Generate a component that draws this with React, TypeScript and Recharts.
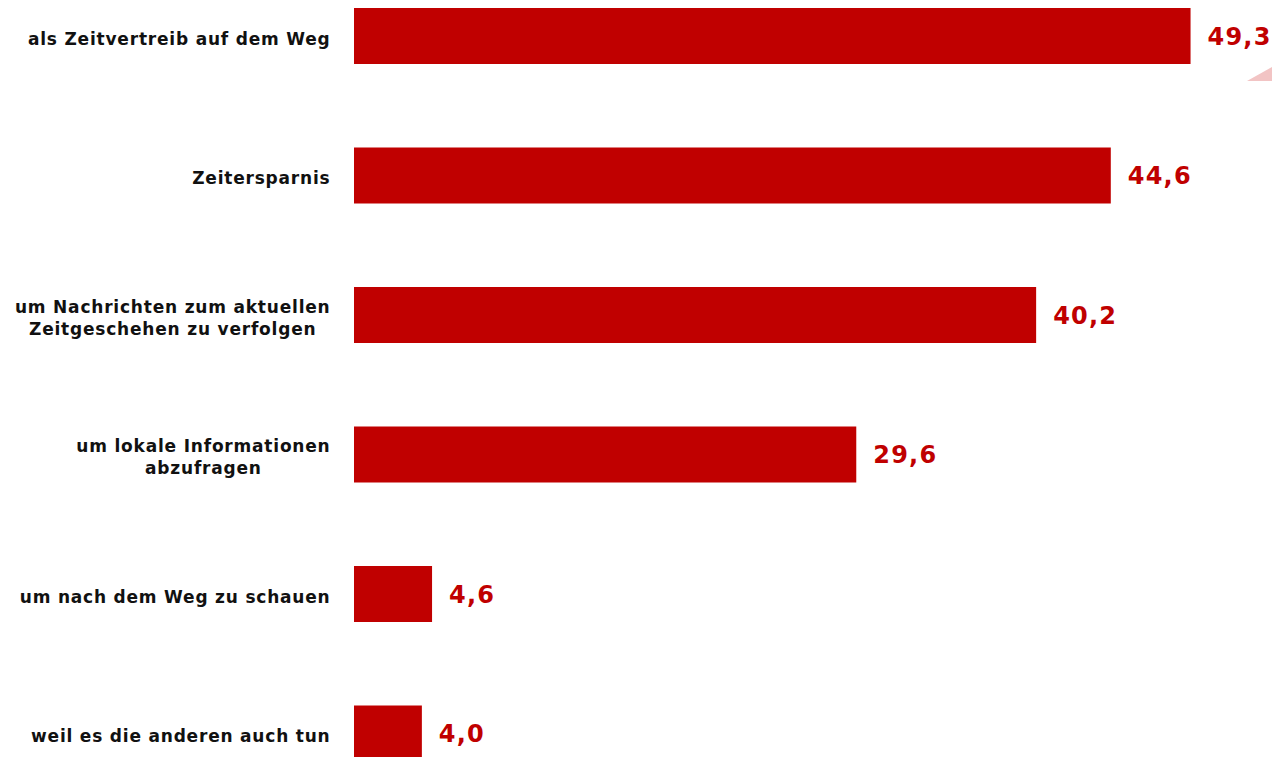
import React from 'react';
import { BarChart, Bar, XAxis, YAxis, LabelList } from 'recharts';

// Gründe für die Nutzung (Werte in %)
const categories = [
  'als Zeitvertreib auf dem Weg',
  'Zeitersparnis',
  'um Nachrichten zum aktuellen\nZeitgeschehen zu verfolgen',
  'um lokale Informationen\nabzufragen',
  'um nach dem Weg zu schauen',
  'weil es die anderen auch tun',
];
const values = [49.3, 44.6, 40.2, 29.6, 4.6, 4.0];

const data = categories.map((name, i) => ({ name, value: values[i] }));

const RED = '#C00000';
const FONT = '"DejaVu Sans", Verdana, sans-serif';

const CategoryTick = (props: any) => {
  const { x, y, payload } = props;
  const lines = String(payload.value).split('\n');
  return (
    <foreignObject x={x - 340} y={y - 37} width={340.5} height={80}>
      <div
        style={{
          height: 80,
          display: 'flex',
          alignItems: 'center',
          justifyContent: 'flex-end',
        }}
      >
        <div
          style={{
            textAlign: 'center',
            fontFamily: FONT,
            fontWeight: 'bold',
            fontSize: 17,
            letterSpacing: 0.8,
            lineHeight: '22px',
            color: '#111',
            whiteSpace: 'nowrap',
          }}
        >
          {lines.map((l, i) => (
            <div key={i}>{l}</div>
          ))}
        </div>
      </div>
    </foreignObject>
  );
};

const App: React.FC = () => {
  return (
    <div
      style={{
        position: 'absolute',
        top: 0,
        left: 0,
        width: 1272,
        height: 757,
        overflow: 'hidden',
        background: '#fff',
      }}
    >
      <div style={{ position: 'absolute', top: -34, left: 0 }}>
        <BarChart
          layout="vertical"
          width={1272}
          height={837}
          data={data}
          margin={{ top: 0, right: 0, bottom: 0, left: 0 }}
        >
          <XAxis type="number" hide domain={[0, 54.1]} />
          <YAxis
            type="category"
            dataKey="name"
            width={354}
            axisLine={false}
            tickLine={false}
            tickSize={0}
            tickMargin={24}
            tick={<CategoryTick />}
            interval={0}
          />
          <Bar dataKey="value" fill={RED} barSize={56} isAnimationActive={false}>
            <LabelList
              dataKey="value"
              position="right"
              offset={17}
              formatter={(v: any) => Number(v).toFixed(1).replace('.', ',')}
              style={{
                fill: RED,
                fontFamily: FONT,
                fontWeight: 'bold',
                fontSize: 24,
                letterSpacing: 1.2,
              }}
            />
          </Bar>
        </BarChart>
      </div>
      {/* Dekoration oben rechts */}
      <svg
        width={1272}
        height={757}
        style={{ position: 'absolute', top: 0, left: 0, pointerEvents: 'none' }}
      >
        <polygon points="1247,81 1272,67 1272,81" fill="#F2C4C4" />
      </svg>
    </div>
  );
};

export default App;
